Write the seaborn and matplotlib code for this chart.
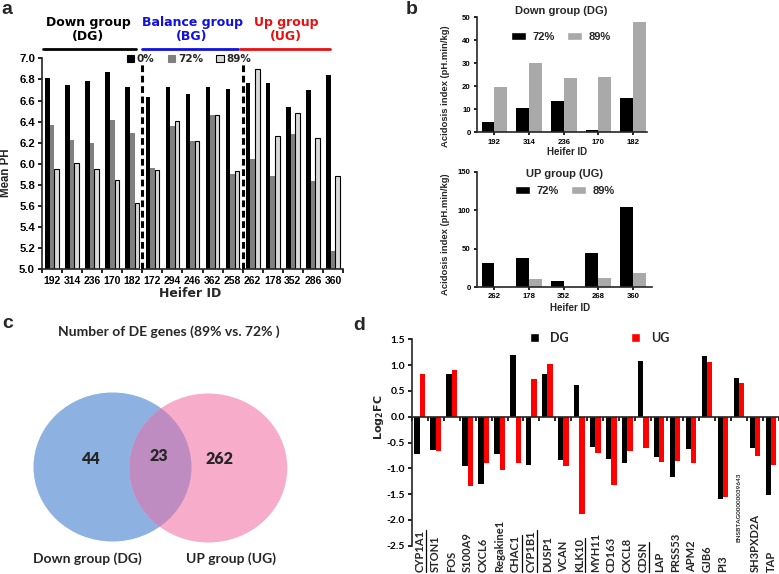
import pandas as pd
import matplotlib.pyplot as plt
import seaborn as sns
from matplotlib.patches import Patch, Ellipse
from matplotlib.lines import Line2D
from matplotlib.transforms import blended_transform_factory

# ---- panel a: mean pH per heifer ----
heifers_a = ['192', '314', '236', '170', '182', '172', '294', '246', '362', '258',
             '262', '178', '352', '286', '360']
levels_a = ['0%', '72%', '89%']
ph_0 = [6.81, 6.75, 6.785, 6.87, 6.73, 6.63, 6.73, 6.66, 6.73, 6.71, 6.765, 6.765, 6.54, 6.70, 6.84]
ph_72 = [6.37, 6.23, 6.20, 6.415, 6.29, 5.96, 6.36, 6.215, 6.46, 5.90, 6.05, 5.88, 6.28, 5.84, 5.17]
ph_89 = [5.95, 6.005, 5.955, 5.85, 5.625, 5.94, 6.41, 6.22, 6.46, 5.935, 6.895, 6.26, 6.48, 6.24, 5.88]

# ---- panel b: acidosis index ----
dg_ids = ['192', '314', '236', '170', '182']
dg_72 = [4.3, 10.4, 13.5, 1.0, 15.1]
dg_89 = [19.7, 30.1, 23.6, 24.1, 48.1]
ug_ids = ['262', '178', '352', '268', '360']
ug_72 = [30.8, 37.3, 7.4, 44.6, 104.0]
ug_89 = [0.0, 10.8, 0.5, 11.7, 18.6]

# ---- panel c: venn counts ----
venn_counts = [44, 23, 262]
venn_names = ['Down group (DG)', 'UP group (UG)']

# ---- panel d: log2FC of shared genes ----
genes = ['CYP1A1', 'STON1', 'FOS', 'S100A9', 'CXCL6', 'Regakine1', 'CHAC1', 'CYP1B1',
         'DUSP1', 'VCAN', 'KLK10', 'MYH11', 'CD163', 'CXCL8', 'CDSN', 'LAP', 'PRSS53',
         'APM2', 'GJB6', 'PI3', 'ENSBTAG00000039643', 'SH3PXD2A', 'TAP']
underlined = ['CYP1A1', 'CHAC1', 'CYP1B1', 'KLK10', 'CDSN']
fc_dg = [-0.73, -0.64, 0.83, -0.95, -1.31, -0.72, 1.20, -0.94, 0.82, -0.83, 0.62, -0.59,
         -0.82, -0.90, 1.07, -0.78, -1.17, -0.63, 1.17, -1.59, 0.75, -0.60, -1.52]
fc_ug = [0.82, -0.66, 0.90, -1.34, -0.89, -1.04, -0.89, 0.73, 1.03, -0.96, -1.89, -0.70,
         -1.32, -0.67, -0.61, -0.87, -0.85, -0.89, 1.06, -1.56, 0.66, -0.76, -0.94]

sns.set_style('ticks')
plt.rcParams['font.family'] = ['Liberation Sans', 'DejaVu Sans']
plt.rcParams['font.weight'] = 'bold'
plt.rcParams['axes.linewidth'] = 1.2
plt.rcParams['xtick.color'] = 'black'
plt.rcParams['ytick.color'] = 'black'

W, H = 779, 574
fig = plt.figure(figsize=(W / 100, H / 100), dpi=100)


def box(left, top, right, bottom):
    return [left / W, 1 - bottom / H, (right - left) / W, (bottom - top) / H]


def ftext(x, y, s, **kw):
    fig.text(x / W, 1 - y / H, s, ha=kw.pop('ha', 'center'), va=kw.pop('va', 'center'), **kw)


# ================= panel a =================
ax = fig.add_axes(box(42, 58.3, 343, 269.3))
df_a = pd.DataFrame({'heifer': heifers_a * 3,
                     'level': [l for l in levels_a for _ in heifers_a],
                     'ph': ph_0 + ph_72 + ph_89})
sns.barplot(data=df_a, x='heifer', y='ph', hue='level', order=heifers_a, hue_order=levels_a,
            palette=['black', '#808080', '#d9d9d9'], width=0.68, errorbar=None,
            legend=False, saturation=1, linewidth=0, ax=ax)
for p in ax.containers[2]:
    p.set_edgecolor('black')
    p.set_linewidth(0.8)
ax.set_xlim(-0.5, len(heifers_a) - 0.5)
ax.set_ylim(5.0, 7.0)
ax.set_yticks([5.0 + 0.2 * i for i in range(11)])
ax.set_yticklabels([f'{5.0 + 0.2 * i:.1f}' for i in range(11)], fontsize=8.2)
ax.set_xticks(range(len(heifers_a)))
ax.set_xticklabels(heifers_a, fontsize=7.5)
ax.set_xticks([i - 0.5 for i in range(len(heifers_a) + 1)], minor=True)
ax.tick_params(axis='x', which='major', length=0, pad=5)
ax.tick_params(axis='x', which='minor', length=3, width=1.2)
ax.tick_params(axis='y', length=3, width=1.2, pad=2)
ax.set_xlabel('')
ax.set_ylabel('')
sns.despine(ax=ax)
for xv in [4.5, 9.5]:
    ax.plot([xv, xv], [5.0, 6.96], color='white', lw=3, zorder=5)
    ax.plot([xv, xv], [5.0, 6.96], color='black', lw=2.2, ls=(0, (2.2, 1.2)), zorder=6)

groups_a = [('Down group\n(DG)', 'black', -0.43, 4.2, 1.8),
            ('Balance group\n(BG)', '#1010e0', 4.48, 9.27, 6.98),
            ('Up group\n(UG)', '#e81010', 9.37, 13.87, 11.65)]
tr = blended_transform_factory(ax.transData, ax.transAxes)
for name, col, x0, x1, xc in groups_a:
    ax.plot([x0, x1], [1.043, 1.043], color=col, lw=2, transform=tr, clip_on=False)
    ax.text(xc, 1.137, name, color=col, ha='center', va='center', fontsize=9,
            fontfamily='DejaVu Sans', fontweight='bold', linespacing=1.15,
            transform=tr, clip_on=False)
fig.legend(handles=[Patch(fc='black', ec='black', lw=0.8),
                    Patch(fc='#808080', ec='#808080', lw=0.8),
                    Patch(fc='#d9d9d9', ec='black', lw=0.8)],
           labels=levels_a, ncol=3, frameon=False, loc='center',
           bbox_to_anchor=(189 / W, 1 - 59 / H), handlelength=0.7, handleheight=0.7,
           handletextpad=0.25, columnspacing=1.3,
           prop={'family': 'DejaVu Sans', 'weight': 'bold', 'size': 7.5})
ftext(6, 173, 'Mean PH', rotation=90, fontsize=8.3)
ftext(190, 293.5, 'Heifer ID', fontsize=9, fontfamily='DejaVu Sans')
ftext(7, 9, 'a', fontsize=14)


# ================= panel b =================
def acid_panel(rect, ids, v72, v89, ylim, yticks, title, ty, legy, legx, xl_y, xl_x, yl_y, xlim_r):
    axb = fig.add_axes(rect)
    df = pd.DataFrame({'heifer': ids * 2,
                       'level': ['72%'] * len(ids) + ['89%'] * len(ids),
                       'ai': v72 + v89})
    sns.barplot(data=df, x='heifer', y='ai', hue='level', order=ids, palette=['black', '#a9a9a9'],
                width=0.74, errorbar=None, legend=False, saturation=1, linewidth=0, ax=axb)
    axb.set_xlim(-0.5, xlim_r)
    axb.set_ylim(*ylim)
    axb.set_yticks(yticks)
    axb.set_yticklabels([str(v) for v in yticks], fontsize=5.6)
    axb.set_xticklabels(ids, fontsize=5.6)
    axb.tick_params(axis='both', length=2.5, width=1.2, pad=2)
    axb.set_xlabel('')
    axb.set_ylabel('')
    sns.despine(ax=axb)
    ftext(xl_x, ty, title, fontsize=8)
    fig.legend(handles=[Patch(fc='black'), Patch(fc='#a9a9a9')], labels=['72%', '89%'],
               ncol=2, frameon=False, loc='center', bbox_to_anchor=(legx / W, 1 - legy / H),
               handlelength=1.35, handleheight=0.75, handletextpad=0.6, columnspacing=1.1,
               prop={'weight': 'bold', 'size': 8})
    ftext(xl_x + 6, xl_y, 'Heifer ID', fontsize=7)
    ftext(445, yl_y, 'Acidosis index (pH.min/kg)', rotation=90, fontsize=6.8)


acid_panel(box(477, 17.3, 647, 132.3), dg_ids, dg_72, dg_89, (0, 50), [0, 10, 20, 30, 40, 50],
           'Down group (DG)', 11, 37, 561, 152, 561, 86, 4.4)
acid_panel(box(477, 171.7, 652, 287), ug_ids, ug_72, ug_89, (0, 150), [0, 50, 100, 150],
           'UP group (UG)', 174, 191, 565, 308, 564, 234, 4.55)
ftext(412, 9, 'b', fontsize=14)

# ================= panel c =================
axc = fig.add_axes([0, 0, 400 / W, 274 / H])
axc.set_xlim(0, 400)
axc.set_ylim(574, 300)
axc.axis('off')
blue = Ellipse((112.5, 467), 158, 149, fc='#8db1e1', ec='none')
pink = Ellipse((208.3, 468), 158, 149, fc='#f7adca', ec='none')
mid = Ellipse((208.3, 468), 158, 149, fc='#bf8cc2', ec='none')
axc.add_patch(blue)
axc.add_patch(pink)
axc.add_patch(mid)
mid.set_clip_path(blue)
for (x, y), n in zip([(91, 459), (159, 456), (219, 459)], venn_counts):
    axc.text(x, y, str(n), ha='center', va='center', fontsize=11.5, fontfamily='Lato',
             fontweight='heavy')
for (x, y), s in zip([(87, 559), (231, 559)], venn_names):
    axc.text(x, y, s, ha='center', va='center', fontsize=10, fontfamily='Lato', fontweight='bold')
axc.text(169, 332, 'Number of DE genes (89% vs. 72% )', ha='center', va='center', fontsize=10,
         fontfamily='Lato', fontweight='bold')
ftext(8, 323, 'c', fontsize=14)

# ================= panel d =================
axd = fig.add_axes(box(411.7, 339.3, 779, 545.7))
df_d = pd.DataFrame({'gene': genes * 2,
                     'group': ['DG'] * len(genes) + ['UG'] * len(genes),
                     'fc': fc_dg + fc_ug})
sns.barplot(data=df_d, x='gene', y='fc', hue='group', order=genes, palette=['black', '#ff0000'],
            width=0.66, errorbar=None, legend=False, saturation=1, linewidth=0, ax=axd)
axd.set_xlim(-0.5, len(genes) - 0.5)
axd.set_ylim(-2.5, 1.5)
yt = [-2.5 + 0.5 * i for i in range(9)]
axd.set_yticks(yt)
axd.set_yticklabels([f'{v:.1f}' for v in yt], fontsize=7.5, fontfamily='Lato')
axd.spines['bottom'].set_position(('data', 0))
axd.set_xticks([i - 0.5 for i in range(len(genes) + 1)])
axd.set_xticklabels([])
axd.tick_params(axis='x', length=3, width=1.2)
axd.tick_params(axis='y', length=3, width=1.2, pad=2)
axd.set_xlabel('')
axd.set_ylabel('')
sns.despine(ax=axd)
trd = blended_transform_factory(axd.transData, fig.transFigure)
gene_texts = []
for i, g in enumerate(genes):
    if g.startswith('ENSBTAG'):
        t = axd.text(i, 1 - 542 / H, g, rotation=90, ha='center', va='bottom', fontsize=4.6,
                     fontfamily='Lato', fontweight='bold', transform=trd, clip_on=False)
    else:
        t = axd.text(i, 2 / H, g, rotation=90, ha='center', va='bottom', fontsize=8,
                     fontfamily='Lato', fontweight='bold', transform=trd, clip_on=False)
    gene_texts.append((g, t))
fig.legend(handles=[Patch(fc='black'), Patch(fc='#ff0000')], labels=['DG', 'UG'], ncol=2,
           frameon=False, loc='center', bbox_to_anchor=(600 / W, 1 - 337.5 / H),
           handlelength=0.7, handleheight=0.7, handletextpad=0.9, columnspacing=5.0,
           prop={'family': 'Lato', 'weight': 'bold', 'size': 9})
ftext(379, 417, r'$\mathbf{Log_2FC}$', rotation=90, fontsize=8)
ftext(359, 325, 'd', fontsize=14)

# underline the marked gene names (baseline is on the right for rotated text)
fig.canvas.draw()
inv = fig.transFigure.inverted()
for g, t in gene_texts:
    if g in underlined:
        bb = t.get_window_extent()
        (x0, y0), (x1, y1) = inv.transform([(bb.x1 + 0.5, bb.y0), (bb.x1 + 0.5, bb.y1)])
        fig.add_artist(Line2D([x0, x1], [y0, y1], color='black', lw=0.9))

fig.savefig('out.png', dpi=100)
